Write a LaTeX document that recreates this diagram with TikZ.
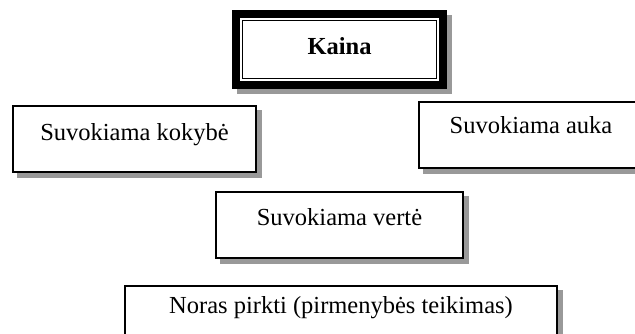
\documentclass[tikz,border=0pt]{standalone}
\usepackage{fontspec}
\setmainfont{Liberation Serif}
\usetikzlibrary{backgrounds}
\definecolor{shadowgray}{gray}{0.6}
\tikzset{
  box/.style={draw, line width=2pt, fill=white, anchor=north west, inner sep=0pt,
    font=\fontsize{24.5pt}{28pt}\selectfont, text height=18pt},
  kainabox/.style={draw, line width=7.7pt, fill=white, anchor=north west, inner sep=0pt,
    font=\fontsize{24.5pt}{28pt}\selectfont\bfseries, text height=18pt},
  shadowfill/.style={fill=shadowgray},
}
\begin{document}
\begin{tikzpicture}[x=1pt,y=1pt]
\useasboundingbox (0,0) rectangle (635,-333);
\clip (0,0) rectangle (635,-333);
\node[kainabox, minimum width=207.3pt, minimum height=71.3pt, text depth=9pt] (kaina) at (232,-10) {Kaina};
\draw[line width=1.3pt] ([shift={(10.3pt,-10.3pt)}]kaina.north west) rectangle ([shift={(-10.3pt,10.3pt)}]kaina.south east);
\node[box, minimum width=243pt, minimum height=66pt, text depth=16pt] (kokybe) at (12,-105) {Suvokiama kokybė};
\node[box, minimum width=224pt, minimum height=66pt, text depth=22pt] (auka) at (418,-101) {Suvokiama auka};
\node[box, minimum width=247pt, minimum height=66pt, text depth=18pt] (verte) at (215,-191) {Suvokiama vertė};
\node[box, minimum width=432pt, minimum height=66pt, text depth=30pt] (noras) at (124,-285) {Noras pirkti (pirmenybės teikimas)};
\begin{scope}[on background layer]
\foreach \n in {kaina,kokybe,auka,verte,noras}{
  \fill[shadowfill] ([shift={(5pt,-5pt)}]\n.south west) rectangle ([shift={(5pt,-5pt)}]\n.north east);
}
\end{scope}
\end{tikzpicture}
\end{document}
